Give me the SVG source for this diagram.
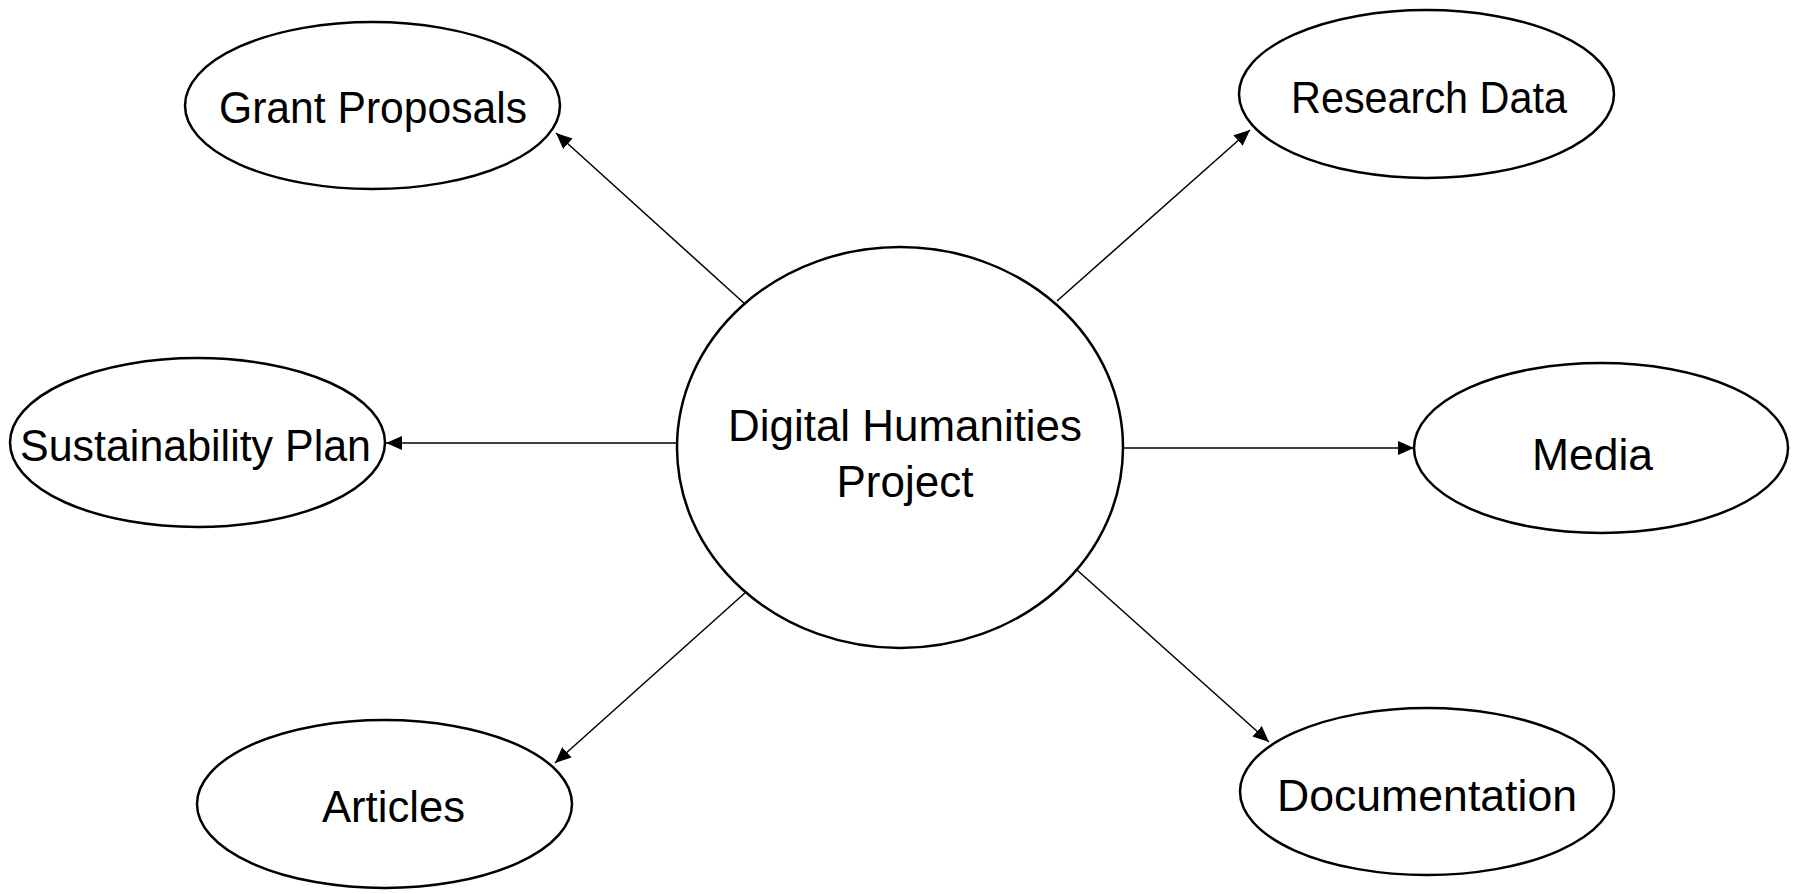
<svg xmlns="http://www.w3.org/2000/svg" width="1793" height="894" viewBox="0 0 1793 894">
<style>
.node ellipse{fill:#fff;stroke:#000;stroke-width:2.5}
.node text{font-family:"Liberation Sans",Arial,sans-serif;font-size:44px;fill:#000;text-anchor:middle}
.edges line{stroke:#000;stroke-width:1.5;marker-end:url(#arrow)}
</style>
<defs>
<marker id="arrow" markerUnits="userSpaceOnUse" markerWidth="18" markerHeight="16" refX="16" refY="7" orient="auto">
<path d="M0,0 L16,7 L0,14 z" fill="#000"/>
</marker>
</defs>
<rect width="1793" height="894" fill="#fff"/>
<g class="edges">
<line x1="745" y1="304" x2="556" y2="133"/>
<line x1="677" y1="443" x2="386" y2="443"/>
<line x1="746" y1="592" x2="555" y2="763"/>
<line x1="1057" y1="301" x2="1250" y2="130"/>
<line x1="1123" y1="448" x2="1414" y2="448"/>
<line x1="1077" y1="570" x2="1269" y2="742"/>
</g>
<g id="center" class="node">
<ellipse cx="900" cy="447.5" rx="223" ry="200.5"/>
<text x="905" y="441" textLength="354" lengthAdjust="spacingAndGlyphs">Digital Humanities</text>
<text x="905" y="497">Project</text>
</g>
<g id="grant" class="node">
<ellipse cx="372.5" cy="105.5" rx="187.5" ry="83.5"/>
<text x="373" y="123" textLength="308" lengthAdjust="spacingAndGlyphs">Grant Proposals</text>
</g>
<g id="sustainability" class="node">
<ellipse cx="197.5" cy="442.5" rx="187.5" ry="84.5"/>
<text x="195.5" y="461" textLength="351" lengthAdjust="spacingAndGlyphs">Sustainability Plan</text>
</g>
<g id="articles" class="node">
<ellipse cx="384.5" cy="804" rx="187.5" ry="84"/>
<text x="393.5" y="822" textLength="143" lengthAdjust="spacingAndGlyphs">Articles</text>
</g>
<g id="research" class="node">
<ellipse cx="1426.5" cy="94" rx="187.5" ry="84"/>
<text x="1429" y="113" textLength="276" lengthAdjust="spacingAndGlyphs">Research Data</text>
</g>
<g id="media" class="node">
<ellipse cx="1601" cy="448" rx="187" ry="85"/>
<text x="1592.5" y="470" textLength="121" lengthAdjust="spacingAndGlyphs">Media</text>
</g>
<g id="documentation" class="node">
<ellipse cx="1427" cy="791.5" rx="187" ry="83.5"/>
<text x="1427" y="811" textLength="300" lengthAdjust="spacingAndGlyphs">Documentation</text>
</g>
</svg>
